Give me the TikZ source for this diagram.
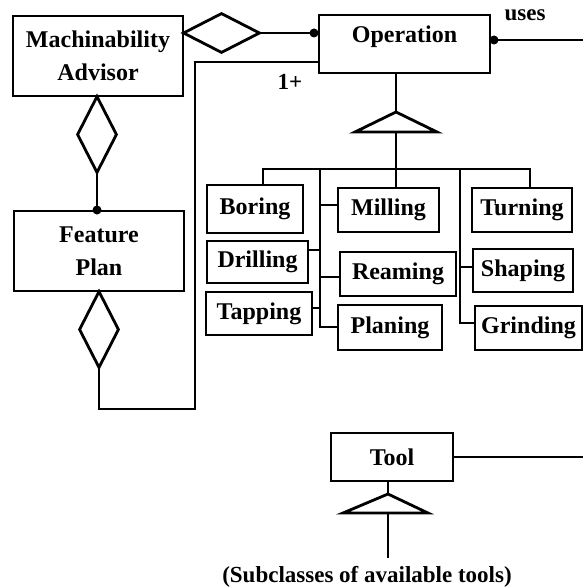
\documentclass[tikz,border=0pt]{standalone}
\usepackage{fontspec}
\setmainfont{Liberation Serif}
\usetikzlibrary{shapes.geometric}
\begin{document}
\begin{tikzpicture}[x=1pt,y=-1pt,
  box/.style={draw, line width=2pt, inner sep=0pt, font=\fontsize{24}{33}\selectfont\bfseries, align=center},
  conn/.style={line width=2pt},
  dia/.style={draw, diamond, line width=2.8pt, inner sep=0pt},
  tri/.style={line width=2.8pt, line join=miter},
  dotn/.style={circle, fill, inner sep=0pt, minimum size=9pt},
  lbl/.style={font=\fontsize{23}{28}\selectfont\bfseries, inner sep=0pt}]
\useasboundingbox (0,0) rectangle (583,588);

% class boxes
\node[box, minimum width=170pt, minimum height=80pt] (ma) at (98,56) {Machinability\\Advisor};
\node[box, minimum width=170pt, minimum height=80pt] (fp) at (99,251) {Feature\\Plan};
\node[box, minimum width=171pt, minimum height=58pt, text depth=20pt] (op) at (404.5,44) {Operation};
\node[box, minimum width=96pt, minimum height=48pt] (bor) at (255,209) {Boring};
\node[box, minimum width=101pt, minimum height=42pt] (dri) at (257.5,262) {Drilling};
\node[box, minimum width=106pt, minimum height=43pt] (tap) at (259,313.5) {Tapping};
\node[box, minimum width=101pt, minimum height=44pt] (mil) at (388.5,210) {Milling};
\node[box, minimum width=116pt, minimum height=44pt] (rea) at (398,274) {Reaming};
\node[box, minimum width=104pt, minimum height=45pt] (pla) at (390,327.5) {Planing};
\node[box, minimum width=100pt, minimum height=44pt] (tur) at (522,210) {Turning};
\node[box, minimum width=100pt, minimum height=43pt] (sha) at (523,270.5) {Shaping};
\node[box, minimum width=107pt, minimum height=44pt] (gri) at (528.5,328) {Grinding};
\node[box, minimum width=122pt, minimum height=48pt] (tool) at (392,457) {Tool};

% aggregation diamonds
\node[dia, minimum width=77pt, minimum height=40pt] (dR) at (221.5,33) {};
\node[dia, minimum width=40pt, minimum height=77pt] (dMA) at (97,134.5) {};
\node[dia, minimum width=40pt, minimum height=77pt] (dFP) at (99,329.5) {};

% MA -- Operation
\node[dotn] (d1) at (314,33) {};
\draw[conn] (dR.east) -- (d1.center) -- (d1.center -| op.west);

% MA -- Feature Plan
\node[dotn] (d2) at (dMA.south |- fp.north) {};
\draw[conn] (dMA.south) -- (d2.center);

% Feature Plan -- Operation (1+)
\coordinate (k1) at (195,409);
\coordinate (k2) at (195,62);
\draw[conn] (dFP.south) |- (k1) -- (k2) -- (k2 -| op.west);
\node[lbl] (one) at (290,82) {1+};

% Operation uses
\coordinate (ue) at (583,40);
\node[dotn] (d3) at (494,40) {};
\draw[conn] (d3.center) -- (ue);
\node[lbl] (uses) at (525,15) {uses};

% generalisation of Operation
\coordinate (t1) at (396,112);
\coordinate (t1b) at (396,132);
\draw[conn] (t1 |- op.south) -- (t1);
\draw[tri] (t1) -- ++(-41,20) -- ++(82,0) -- cycle;
\coordinate (hb) at (396,169);
\draw[conn] (t1b) -- (hb) -- (hb |- mil.north);
\coordinate (b1) at (263,169);
\coordinate (b5) at (530,169);
\draw[conn] (b1 |- bor.north) -- (b1) -- (b5) -- (b5 |- tur.north);
\coordinate (lb) at (320,169);
\coordinate (lbe) at (320,327);
\draw[conn] (lb) -- (lbe) -- (lbe -| pla.west);
\coordinate (rb) at (460,169);
\coordinate (rbe) at (460,323);
\draw[conn] (rb) -- (rbe) -- (rbe -| gri.west);
\coordinate (s1) at (320,250);
\coordinate (s2) at (320,308);
\coordinate (s3) at (320,205);
\coordinate (s4) at (320,277);
\coordinate (s5) at (460,267);
\draw[conn] (s1 -| dri.east) -- (s1);
\draw[conn] (s2 -| tap.east) -- (s2);
\draw[conn] (s3) -- (s3 -| mil.west);
\draw[conn] (s4) -- (s4 -| rea.west);
\draw[conn] (s5) -- (s5 -| sha.west);

% Tool
\coordinate (te) at (583,457);
\draw[conn] (tool.east) -- (te);
\coordinate (t2) at (388,494);
\coordinate (t2b) at (388,513);
\coordinate (t2e) at (388,558);
\draw[conn] (t2 |- tool.south) -- (t2);
\draw[tri] (t2) -- ++(-45,19) -- ++(85,0) -- cycle;
\draw[conn] (t2b) -- (t2e);
\node[lbl] (sub) at (367,577) {(Subclasses of available tools)};
\end{tikzpicture}
\end{document}
